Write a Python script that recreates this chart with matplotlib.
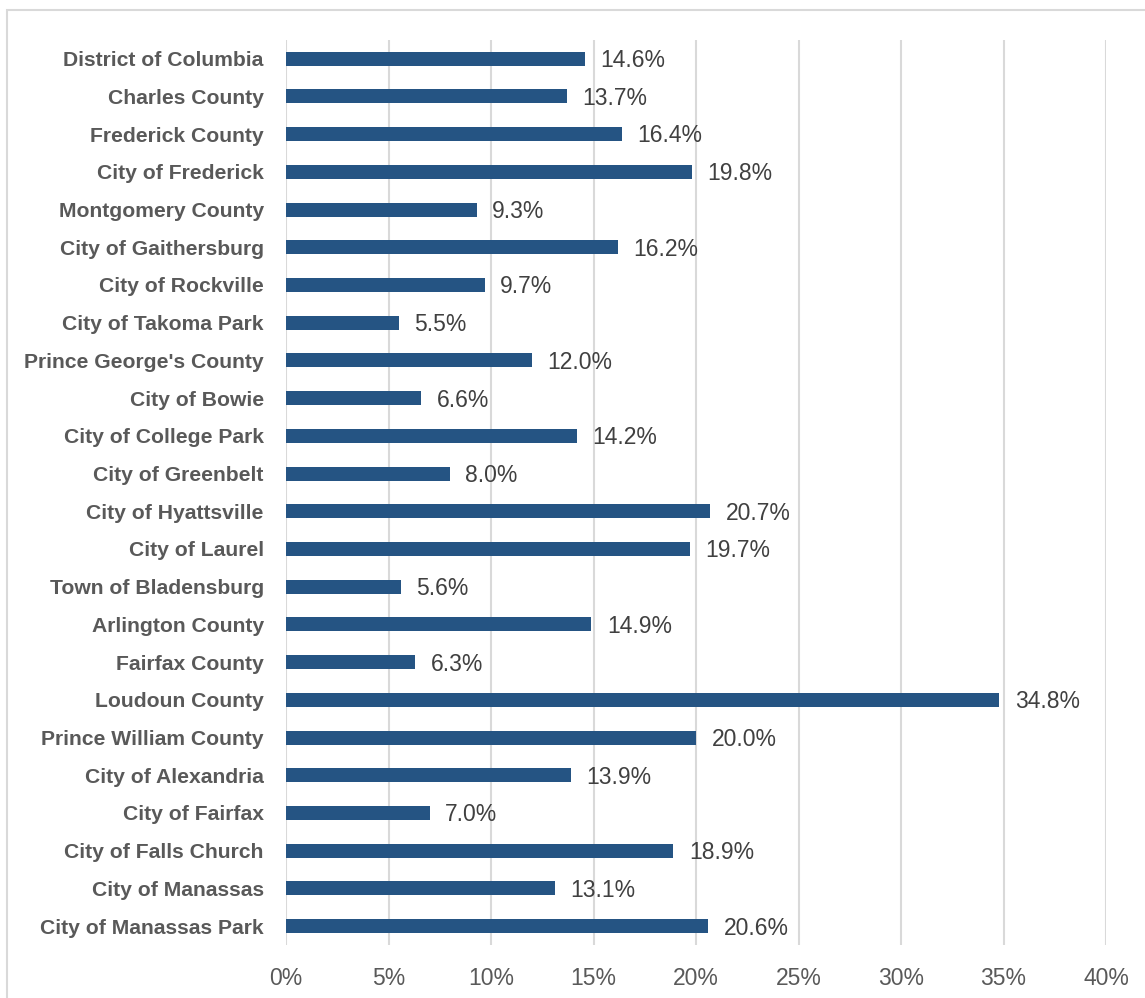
import matplotlib.pyplot as plt
from matplotlib.patches import Rectangle
from matplotlib.ticker import FuncFormatter

# data
places = ["District of Columbia", "Charles County", "Frederick County", "City of Frederick",
          "Montgomery County", "City of Gaithersburg", "City of Rockville", "City of Takoma Park",
          "Prince George's County", "City of Bowie", "City of College Park", "City of Greenbelt",
          "City of Hyattsville", "City of Laurel", "Town of Bladensburg", "Arlington County",
          "Fairfax County", "Loudoun County", "Prince William County", "City of Alexandria",
          "City of Fairfax", "City of Falls Church", "City of Manassas", "City of Manassas Park"]
pct = [14.6, 13.7, 16.4, 19.8, 9.3, 16.2, 9.7, 5.5, 12.0, 6.6, 14.2, 8.0,
       20.7, 19.7, 5.6, 14.9, 6.3, 34.8, 20.0, 13.9, 7.0, 18.9, 13.1, 20.6]
xticks = [0, 5, 10, 15, 20, 25, 30, 35, 40]

plt.rcParams['font.family'] = ['Liberation Sans', 'DejaVu Sans']

fig = plt.figure(figsize=(11.45, 9.98), dpi=100)
ax = fig.add_axes([0.2498, 0.0531, 0.7162, 0.907])

# light border around the chart area
fig.patches.append(Rectangle((7 / 1145, -0.05), 1.1, 1.04,
                             transform=fig.transFigure, fill=False,
                             edgecolor="#D9D9D9", linewidth=1.5))

ypos = list(range(len(places)))
ax.barh(ypos, pct, height=0.37, color="#255483", zorder=3)
for y, v in zip(ypos, pct):
    ax.text(v + 0.75, y + 0.05, f"{v:.1f}%", va="center", ha="left",
            fontsize=16.5, color="#404040")

ax.set_ylim(23.5, -0.5)
ax.set_xlim(0, 40)
ax.set_yticks(ypos)
ax.set_yticklabels(places, fontsize=15.2, fontweight="bold", color="#595959")
ax.set_xticks(xticks)
ax.xaxis.set_major_formatter(FuncFormatter(lambda x, p: f"{x:.0f}%"))
ax.tick_params(axis="x", labelsize=16.5, labelcolor="#595959", length=0, pad=16)
ax.tick_params(axis="y", length=0, pad=16)

ax.grid(axis="x", color="#D9D9D9", linewidth=1.5, zorder=0)
for s in ax.spines.values():
    s.set_visible(False)

plt.savefig("out.png", dpi=100)
